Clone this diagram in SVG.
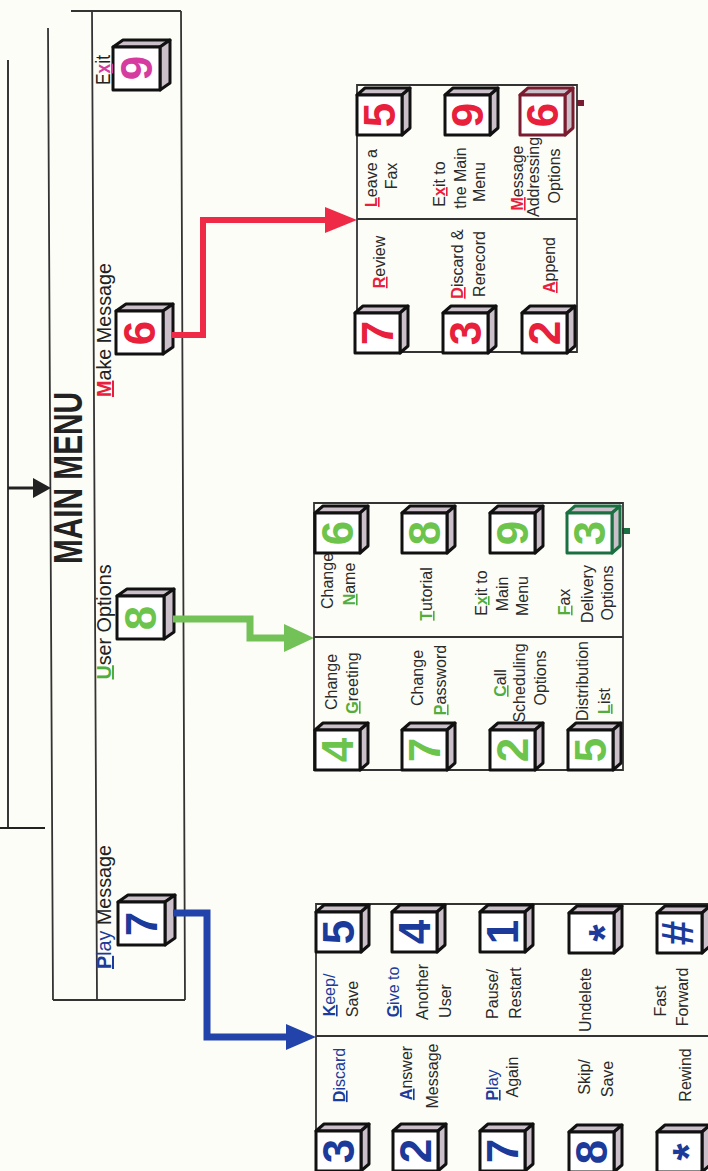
<svg xmlns="http://www.w3.org/2000/svg" xmlns:xlink="http://www.w3.org/1999/xlink" width="708" height="1171" viewBox="0 0 708 1171">
<style>
.t{font-family:"Liberation Sans",Arial,sans-serif;font-size:16px;fill:#2a2a2a;text-anchor:middle}
.m{font-family:"Liberation Sans",Arial,sans-serif;font-size:20px;fill:#222;text-anchor:middle}
.d{font-family:"Liberation Sans",Arial,sans-serif;font-weight:bold;font-size:44px;text-anchor:middle}
.box{fill:none;stroke:#333;stroke-width:1.8}
.hr{fill:#e8203c;font-weight:bold;text-decoration:underline}
.hg{fill:#4fae3c;font-weight:bold;text-decoration:underline}
.hb{fill:#1c3c9c;font-weight:bold;text-decoration:underline}
.hm{fill:#d63ca0;font-weight:bold;text-decoration:underline}
.bl{fill:#1c3c9c}
.cr{fill:#e8203c}.cg{fill:#6cc44c}.cb{fill:#1c3a9a}.cm{fill:#d63ca0}
</style>
<defs>
<g id="cs">
<path d="M0,0 L8,-7 H53 L45,0 Z" fill="#cbc0c9"/>
<path d="M45,0 L53,-7 V33 L45,40 Z" fill="#cbc0c9"/>
<rect width="45" height="40" fill="#fff"/>
</g>
<g id="cmn">
<path d="M0,0 L10,-7 H57 L47,0 Z" fill="#cbc0c9"/>
<path d="M47,0 L57,-7 V36 L47,43 Z" fill="#cbc0c9"/>
<rect width="47" height="43" fill="#fff"/>
</g>
<marker id="ar" markerUnits="userSpaceOnUse" markerWidth="32" markerHeight="26" refX="0" refY="13" orient="auto" viewBox="0 0 32 26"><path d="M0,0 L32,13 L0,26 Z" fill="#ee2a46"/></marker>
<marker id="ag" markerUnits="userSpaceOnUse" markerWidth="30" markerHeight="28" refX="0" refY="14" orient="auto" viewBox="0 0 30 28"><path d="M0,0 L30,14 L0,28 Z" fill="#72c258"/></marker>
<marker id="ab" markerUnits="userSpaceOnUse" markerWidth="30" markerHeight="26" refX="0" refY="13" orient="auto" viewBox="0 0 30 26"><path d="M0,0 L30,13 L0,26 Z" fill="#2244aa"/></marker>
<marker id="ak" markerUnits="userSpaceOnUse" markerWidth="18" markerHeight="20" refX="0" refY="10" orient="auto" viewBox="0 0 18 20"><path d="M0,0 L18,10 L0,20 Z" fill="#222"/></marker>
</defs>
<rect width="708" height="1171" fill="#fdfdf7"/>

<!-- Main menu frame -->
<g id="main-menu">
<path class="box" d="M71,11 H181 M48,28 L53,1000 M92,11 L97,1000 M181,11 L185,1000 M53,1000 H185"/>
<text transform="translate(82,478) rotate(-90)" style="font-family:'Liberation Sans',Arial,sans-serif;font-weight:bold;font-size:40px;fill:#222;text-anchor:middle" textLength="172" lengthAdjust="spacingAndGlyphs">MAIN MENU</text>
</g>

<g id="main-exit">
<use href="#cmn" x="113" y="47" stroke="#111" stroke-width="3" stroke-linejoin="round"/>
<text class="d cm" transform="translate(152,68) rotate(-90)">9</text>
<text class="m" transform="translate(110,70) rotate(-90)" textLength="30" lengthAdjust="spacingAndGlyphs">E<tspan class="hm">x</tspan>it</text>
</g>
<g id="main-make">
<use href="#cmn" x="116" y="311" stroke="#111" stroke-width="3" stroke-linejoin="round"/>
<text class="d cr" transform="translate(155,333) rotate(-90)">6</text>
<text class="m" transform="translate(111,330) rotate(-90)" textLength="134" lengthAdjust="spacingAndGlyphs"><tspan class="hr">M</tspan>ake Message</text>
</g>
<g id="main-user">
<use href="#cmn" x="117" y="596" stroke="#111" stroke-width="3" stroke-linejoin="round"/>
<text class="d cg" transform="translate(156,618) rotate(-90)">8</text>
<text class="m" transform="translate(111,622) rotate(-90)" textLength="115" lengthAdjust="spacingAndGlyphs"><tspan class="hg">U</tspan>ser Options</text>
</g>
<g id="main-play">
<use href="#cmn" x="118" y="902" stroke="#111" stroke-width="3" stroke-linejoin="round"/>
<text class="d cb" transform="translate(157,924) rotate(-90)">7</text>
<text class="m" transform="translate(111,907) rotate(-90)" textLength="124" lengthAdjust="spacingAndGlyphs"><tspan class="hb">P</tspan><tspan class="bl">lay</tspan> Message</text>
</g>

<!-- Connectors -->
<g id="connectors" fill="none" stroke-linejoin="miter">
<path d="M8,60 V828 M0,828 H45" stroke="#222" stroke-width="1.8"/>
<path d="M8,488 H33" stroke="#222" stroke-width="3" marker-end="url(#ak)"/>
<path d="M172,335 H203 V220 H325" stroke="#ee2a46" stroke-width="6" marker-end="url(#ar)"/>
<path d="M173,619 H250 V638 H284" stroke="#72c258" stroke-width="7" marker-end="url(#ag)"/>
<path d="M173,913 H207 V1037 H286" stroke="#2244aa" stroke-width="7" marker-end="url(#ab)"/>
<path d="M577,103 H584" stroke="#7a1c30" stroke-width="6"/>
<path d="M622,531 H630" stroke="#1a7040" stroke-width="6"/>
</g>

<!-- Make Message submenu -->
<g id="make-menu"><path class="box" d="M357,85 H577 V352 H357 Z M357,219 H577"/></g>
<g id="make-5">
<use href="#cs" x="357" y="95" stroke="#111" stroke-width="3" stroke-linejoin="round"/>
<text class="d cr" transform="translate(395,115) rotate(-90)">5</text>
<text class="t" transform="translate(377,178) rotate(-90)"><tspan class="hr">L</tspan>eave a</text>
<text class="t" transform="translate(397,176) rotate(-90)">Fax</text>
</g>
<g id="make-9">
<use href="#cs" x="445" y="95" stroke="#111" stroke-width="3" stroke-linejoin="round"/>
<text class="d cr" transform="translate(483,115) rotate(-90)">9</text>
<text class="t" transform="translate(445,184) rotate(-90)">E<tspan class="hr">x</tspan>it to</text>
<text class="t" transform="translate(466,178) rotate(-90)">the Main</text>
<text class="t" transform="translate(485,182) rotate(-90)">Menu</text>
</g>
<g id="make-6">
<use href="#cs" x="520" y="95" stroke="#7a1c30" stroke-width="3" stroke-linejoin="round"/>
<text class="d cr" transform="translate(558,115) rotate(-90)">6</text>
<text class="t" transform="translate(523,178) rotate(-90)"><tspan class="hr">M</tspan>essage</text>
<text class="t" transform="translate(539,177) rotate(-90)">Addressing</text>
<text class="t" transform="translate(560,176) rotate(-90)">Options</text>
</g>
<g id="make-7">
<use href="#cs" x="355" y="313" stroke="#111" stroke-width="3" stroke-linejoin="round"/>
<text class="d cr" transform="translate(393,333) rotate(-90)">7</text>
<text class="t" transform="translate(385,262) rotate(-90)"><tspan class="hr">R</tspan>eview</text>
</g>
<g id="make-3">
<use href="#cs" x="443" y="313" stroke="#111" stroke-width="3" stroke-linejoin="round"/>
<text class="d cr" transform="translate(481,333) rotate(-90)">3</text>
<text class="t" transform="translate(463,264) rotate(-90)"><tspan class="hr">D</tspan>iscard &amp;</text>
<text class="t" transform="translate(485,264) rotate(-90)">Rerecord</text>
</g>
<g id="make-2">
<use href="#cs" x="522" y="313" stroke="#111" stroke-width="3" stroke-linejoin="round"/>
<text class="d cr" transform="translate(560,333) rotate(-90)">2</text>
<text class="t" transform="translate(555,265) rotate(-90)"><tspan class="hr">A</tspan>ppend</text>
</g>

<!-- User Options submenu -->
<g id="user-menu"><path class="box" d="M314,503 H623 V770 H314 Z M314,637 H623"/></g>
<g id="user-6">
<use href="#cs" x="315" y="513" stroke="#111" stroke-width="3" stroke-linejoin="round"/>
<text class="d cg" transform="translate(353,533) rotate(-90)">6</text>
<text class="t" transform="translate(333,581) rotate(-90)">Change</text>
<text class="t" transform="translate(355,584) rotate(-90)"><tspan class="hg">N</tspan>ame</text>
</g>
<g id="user-8">
<use href="#cs" x="402" y="513" stroke="#111" stroke-width="3" stroke-linejoin="round"/>
<text class="d cg" transform="translate(440,533) rotate(-90)">8</text>
<text class="t" transform="translate(432,594) rotate(-90)"><tspan class="hg">T</tspan>utorial</text>
</g>
<g id="user-9">
<use href="#cs" x="490" y="513" stroke="#111" stroke-width="3" stroke-linejoin="round"/>
<text class="d cg" transform="translate(528,533) rotate(-90)">9</text>
<text class="t" transform="translate(487,593) rotate(-90)">E<tspan class="hg">x</tspan>it to</text>
<text class="t" transform="translate(508,594) rotate(-90)">Main</text>
<text class="t" transform="translate(528,596) rotate(-90)">Menu</text>
</g>
<g id="user-3">
<use href="#cs" x="567" y="513" stroke="#1a7040" stroke-width="3" stroke-linejoin="round"/>
<text class="d cg" transform="translate(605,533) rotate(-90)">3</text>
<text class="t" transform="translate(570,602) rotate(-90)"><tspan class="hg">F</tspan>ax</text>
<text class="t" transform="translate(593,594) rotate(-90)">Delivery</text>
<text class="t" transform="translate(613,593) rotate(-90)">Options</text>
</g>
<g id="user-4">
<use href="#cs" x="315" y="730" stroke="#111" stroke-width="3" stroke-linejoin="round"/>
<text class="d cg" transform="translate(353,750) rotate(-90)">4</text>
<text class="t" transform="translate(337,682) rotate(-90)">Change</text>
<text class="t" transform="translate(358,683) rotate(-90)"><tspan class="hg">G</tspan>reeting</text>
</g>
<g id="user-7">
<use href="#cs" x="402" y="730" stroke="#111" stroke-width="3" stroke-linejoin="round"/>
<text class="d cg" transform="translate(440,750) rotate(-90)">7</text>
<text class="t" transform="translate(423,678) rotate(-90)">Change</text>
<text class="t" transform="translate(446,680) rotate(-90)"><tspan class="hg">P</tspan>assword</text>
</g>
<g id="user-2">
<use href="#cs" x="490" y="730" stroke="#111" stroke-width="3" stroke-linejoin="round"/>
<text class="d cg" transform="translate(528,750) rotate(-90)">2</text>
<text class="t" transform="translate(506,683) rotate(-90)"><tspan class="hg">C</tspan>all</text>
<text class="t" transform="translate(525,683) rotate(-90)">Scheduling</text>
<text class="t" transform="translate(546,678) rotate(-90)">Options</text>
</g>
<g id="user-5">
<use href="#cs" x="568" y="730" stroke="#111" stroke-width="3" stroke-linejoin="round"/>
<text class="d cg" transform="translate(606,750) rotate(-90)">5</text>
<text class="t" transform="translate(588,681) rotate(-90)">Distribution</text>
<text class="t" transform="translate(610,701) rotate(-90)"><tspan class="hg">L</tspan>ist</text>
</g>

<!-- Play Message submenu -->
<g id="play-menu"><path class="box" d="M316,1171 V904 H708 M316,1036 H708"/></g>
<g id="play-5">
<use href="#cs" x="316" y="912" stroke="#111" stroke-width="3" stroke-linejoin="round"/>
<text class="d cb" transform="translate(354,932) rotate(-90)">5</text>
<text class="t" transform="translate(335,995) rotate(-90)"><tspan class="hb">K</tspan><tspan class="bl">eep/</tspan></text>
<text class="t" transform="translate(358,999) rotate(-90)">Save</text>
</g>
<g id="play-4">
<use href="#cs" x="392" y="912" stroke="#111" stroke-width="3" stroke-linejoin="round"/>
<text class="d cb" transform="translate(430,932) rotate(-90)">4</text>
<text class="t" transform="translate(399,992) rotate(-90)"><tspan class="hb">G</tspan><tspan class="bl">ive to</tspan></text>
<text class="t" transform="translate(428,992) rotate(-90)">Another</text>
<text class="t" transform="translate(451,1001) rotate(-90)">User</text>
</g>
<g id="play-1">
<use href="#cs" x="480" y="912" stroke="#111" stroke-width="3" stroke-linejoin="round"/>
<text class="d cb" transform="translate(518,932) rotate(-90)">1</text>
<text class="t" transform="translate(498,994) rotate(-90)">Pause/</text>
<text class="t" transform="translate(521,993) rotate(-90)">Restart</text>
</g>
<g id="play-star">
<use href="#cs" x="569" y="913" stroke="#111" stroke-width="3" stroke-linejoin="round"/>
<text class="d cb" transform="translate(620,933) rotate(-90)">*</text>
<text class="t" transform="translate(591,1000) rotate(-90)">Undelete</text>
</g>
<g id="play-hash">
<use href="#cs" x="657" y="913" stroke="#111" stroke-width="3" stroke-linejoin="round"/>
<text class="d cb" transform="translate(693,933) rotate(-90)">#</text>
<text class="t" transform="translate(666,1001) rotate(-90)">Fast</text>
<text class="t" transform="translate(688,997) rotate(-90)">Forward</text>
</g>
<g id="play-3">
<use href="#cs" x="316" y="1131" stroke="#111" stroke-width="3" stroke-linejoin="round"/>
<text class="d cb" transform="translate(354,1151) rotate(-90)">3</text>
<text class="t" transform="translate(345,1075) rotate(-90)"><tspan class="hb">D</tspan><tspan class="bl">iscard</tspan></text>
</g>
<g id="play-2">
<use href="#cs" x="393" y="1131" stroke="#111" stroke-width="3" stroke-linejoin="round"/>
<text class="d cb" transform="translate(431,1151) rotate(-90)">2</text>
<text class="t" transform="translate(412,1073) rotate(-90)"><tspan class="hb">A</tspan>nswer</text>
<text class="t" transform="translate(438,1076) rotate(-90)">Message</text>
</g>
<g id="play-7">
<use href="#cs" x="480" y="1131" stroke="#111" stroke-width="3" stroke-linejoin="round"/>
<text class="d cb" transform="translate(518,1151) rotate(-90)">7</text>
<text class="t" transform="translate(498,1085) rotate(-90)"><tspan class="hb">P</tspan><tspan class="bl">lay</tspan></text>
<text class="t" transform="translate(518,1077) rotate(-90)">Again</text>
</g>
<g id="play-8">
<use href="#cs" x="569" y="1132" stroke="#111" stroke-width="3" stroke-linejoin="round"/>
<text class="d cb" transform="translate(607,1152) rotate(-90)">8</text>
<text class="t" transform="translate(590,1077) rotate(-90)">Skip/</text>
<text class="t" transform="translate(613,1079) rotate(-90)">Save</text>
</g>
<g id="play-star2">
<use href="#cs" x="657" y="1132" stroke="#111" stroke-width="3" stroke-linejoin="round"/>
<text class="d cb" transform="translate(704,1152) rotate(-90)">*</text>
<text class="t" transform="translate(691,1075) rotate(-90)">Rewind</text>
</g>
</svg>
